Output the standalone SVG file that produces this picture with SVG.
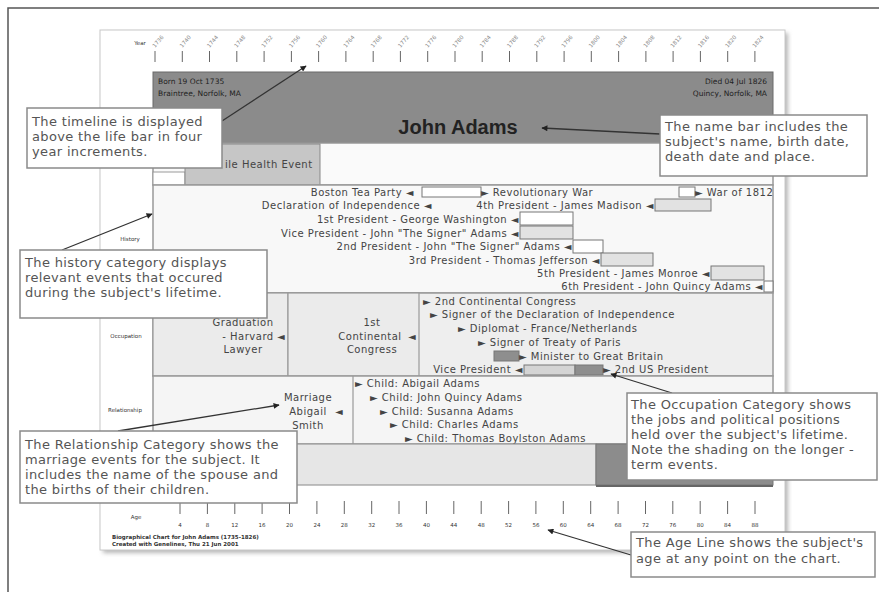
<svg xmlns="http://www.w3.org/2000/svg" width="879" height="592" viewBox="0 0 879 592">
<defs>
<style>
.t{font-family:"DejaVu Sans",Verdana,sans-serif;font-size:10px;letter-spacing:0.5px;fill:#444}
.tiny{font-family:"DejaVu Sans",Verdana,sans-serif;font-size:5.5px;fill:#333}
.yr{font-family:"DejaVu Sans",Verdana,sans-serif;font-size:5.5px;fill:#888}
.info{font-family:"DejaVu Sans",Verdana,sans-serif;font-size:7.5px;fill:#222}
.co{font-family:"DejaVu Sans",Verdana,sans-serif;font-size:13px;letter-spacing:0.35px;fill:#555}
.cobox{fill:#fff;stroke:#8a8a8a;stroke-width:1.5}
.sec{stroke:#999;stroke-width:1.5}
.ev{stroke:#777;stroke-width:1}
.tick{stroke:#666;stroke-width:1;fill:none}
.arr{stroke:#333;stroke-width:1.3;fill:none;marker-end:url(#ah)}
.mid{text-anchor:middle}
.end{text-anchor:end}
</style>
<marker id="ah" viewBox="0 0 10 10" refX="9" refY="5" markerWidth="7" markerHeight="6" orient="auto" markerUnits="userSpaceOnUse">
<path d="M0,0 L10,5 L0,10 Z" fill="#222"/>
</marker>
<filter id="sh" x="-5%" y="-5%" width="110%" height="110%"><feGaussianBlur stdDeviation="2"/></filter>
</defs>
<rect width="879" height="592" fill="#fff"/>
<path d="M8,592 V8 H879" fill="none" stroke="#555" stroke-width="1.5"/>

<g id="sheet">
<rect x="103" y="33" width="685" height="520" fill="#b8b8b8" filter="url(#sh)"/>
<rect x="100" y="30" width="685" height="520" fill="#fff" stroke="#c8c8c8" stroke-width="1"/>
</g>

<g id="timeline">
<text class="tiny mid" x="140" y="45">Year</text>
<path class="tick" d="M155,51v11M182.3,51v11M209.5,51v11M236.8,51v11M264.1,51v11M291.4,51v11M318.6,51v11M345.9,51v11M373.2,51v11M400.4,51v11M427.7,51v11M455,51v11M482.2,51v11M509.5,51v11M536.8,51v11M564.1,51v11M591.3,51v11M618.6,51v11M645.9,51v11M673.1,51v11M700.4,51v11M727.7,51v11M754.9,51v11"/>
<g class="yr">
<text transform="translate(155,48) rotate(-50)">1736</text>
<text transform="translate(182.3,48) rotate(-50)">1740</text>
<text transform="translate(209.5,48) rotate(-50)">1744</text>
<text transform="translate(236.8,48) rotate(-50)">1748</text>
<text transform="translate(264.1,48) rotate(-50)">1752</text>
<text transform="translate(291.4,48) rotate(-50)">1756</text>
<text transform="translate(318.6,48) rotate(-50)">1760</text>
<text transform="translate(345.9,48) rotate(-50)">1764</text>
<text transform="translate(373.2,48) rotate(-50)">1768</text>
<text transform="translate(400.4,48) rotate(-50)">1772</text>
<text transform="translate(427.7,48) rotate(-50)">1776</text>
<text transform="translate(455,48) rotate(-50)">1780</text>
<text transform="translate(482.2,48) rotate(-50)">1784</text>
<text transform="translate(509.5,48) rotate(-50)">1788</text>
<text transform="translate(536.8,48) rotate(-50)">1792</text>
<text transform="translate(564.1,48) rotate(-50)">1796</text>
<text transform="translate(591.3,48) rotate(-50)">1800</text>
<text transform="translate(618.6,48) rotate(-50)">1804</text>
<text transform="translate(645.9,48) rotate(-50)">1808</text>
<text transform="translate(673.1,48) rotate(-50)">1812</text>
<text transform="translate(700.4,48) rotate(-50)">1816</text>
<text transform="translate(727.7,48) rotate(-50)">1820</text>
<text transform="translate(754.9,48) rotate(-50)">1824</text>
</g>
</g>

<g id="namebar">
<rect x="153" y="72" width="620" height="71" fill="#8b8b8b" stroke="#6a6a6a" stroke-width="1"/>
<text class="info" x="158" y="84">Born 19 Oct 1735</text>
<text class="info" x="158" y="96">Braintree, Norfolk, MA</text>
<text class="info end" x="767" y="84">Died 04 Jul 1826</text>
<text class="info end" x="767" y="96">Quincy, Norfolk, MA</text>
<text x="458" y="134" text-anchor="middle" font-family="'Liberation Sans',Arial,sans-serif" font-weight="bold" font-size="20" fill="#222">John Adams</text>
</g>

<g id="health">
<rect class="sec" x="153" y="143" width="620" height="42" fill="#fafafa"/>
<rect x="153" y="172" width="32" height="13" fill="#fff" stroke="#999"/>
<rect x="185" y="144" width="135" height="41" fill="#c6c6c6" stroke="#888"/>
<text class="t" x="225" y="168" font-size="8.5px" letter-spacing="0.3px">ile Health Event</text>
</g>

<g id="history">
<rect class="sec" x="153" y="185" width="620" height="108" fill="#f8f8f8"/>
<text class="tiny mid" x="130" y="241">History</text>
<rect class="ev" x="422" y="187" width="59" height="10" fill="#fff"/>
<rect class="ev" x="679" y="187" width="16" height="10" fill="#fff"/>
<rect class="ev" x="655" y="199" width="56" height="12" fill="#e2e2e2"/>
<rect class="ev" x="520" y="212" width="53" height="13" fill="#fff"/>
<rect class="ev" x="520" y="226" width="53" height="13" fill="#e2e2e2"/>
<rect class="ev" x="573" y="240" width="30" height="13" fill="#fff"/>
<rect class="ev" x="601" y="253" width="52" height="13" fill="#e2e2e2"/>
<rect class="ev" x="711" y="266" width="53" height="14" fill="#e2e2e2"/>
<rect class="ev" x="764" y="281" width="9" height="11" fill="#fff"/>
<text class="t end" x="414" y="195.5">Boston Tea Party ◄</text>
<text class="t" x="481" y="195.5">► Revolutionary War</text>
<text class="t" x="695" y="195.5">► War of 1812</text>
<text class="t end" x="432" y="208.5">Declaration of Independence ◄</text>
<text class="t end" x="654" y="208.5">4th President - James Madison ◄</text>
<text class="t end" x="519" y="222.5">1st President - George Washington ◄</text>
<text class="t end" x="519" y="236.5">Vice President - John "The Signer" Adams ◄</text>
<text class="t end" x="572" y="249.5">2nd President - John "The Signer" Adams ◄</text>
<text class="t end" x="600" y="263.5">3rd President - Thomas Jefferson ◄</text>
<text class="t end" x="710" y="276.5">5th President - James Monroe ◄</text>
<text class="t end" x="763" y="290">6th President - John Quincy Adams ◄</text>
</g>

<g id="occupation">
<rect class="sec" x="153" y="293" width="620" height="83" fill="#eeeeee"/>
<text class="tiny mid" x="126" y="338">Occupation</text>
<rect x="153" y="293" width="135" height="83" fill="#ebebeb" stroke="#999" stroke-width="1.2"/>
<rect x="288" y="293" width="131" height="83" fill="#ebebeb" stroke="#999" stroke-width="1.2"/>
<text class="t mid" x="243" y="325.5">Graduation</text>
<text class="t mid" x="248" y="339.5">- Harvard</text>
<text class="t" x="277" y="339.5">◄</text>
<text class="t mid" x="243" y="353">Lawyer</text>
<text class="t mid" x="372" y="325.5">1st</text>
<text class="t mid" x="370" y="339.5">Continental</text>
<text class="t" x="408" y="339.5">◄</text>
<text class="t mid" x="372" y="353">Congress</text>
<text class="t" x="423" y="304.5">► 2nd Continental Congress</text>
<text class="t" x="430" y="318">► Signer of the Declaration of Independence</text>
<text class="t" x="458" y="332">► Diplomat - France/Netherlands</text>
<text class="t" x="478" y="345.5">► Signer of Treaty of Paris</text>
<rect class="ev" x="494" y="351" width="25" height="10" fill="#8e8e8e"/>
<text class="t" x="519" y="359.5">► Minister to Great Britain</text>
<text class="t end" x="523" y="373">Vice President ◄</text>
<rect class="ev" x="524" y="365" width="51" height="10" fill="#d4d4d4"/>
<rect class="ev" x="575" y="365" width="28" height="10" fill="#8e8e8e"/>
<text class="t" x="603" y="373">► 2nd US President</text>
</g>

<g id="relationship">
<rect class="sec" x="153" y="376" width="620" height="68" fill="#f5f5f5"/>
<text class="tiny mid" x="125" y="412">Relationship</text>
<line x1="353" y1="376" x2="353" y2="444" stroke="#999" stroke-width="1.2"/>
<text class="t mid" x="308" y="400.5">Marriage</text>
<text class="t mid" x="308" y="414.5">Abigail</text>
<text class="t mid" x="308" y="428.5">Smith</text>
<text class="t" x="335" y="414.5">◄</text>
<text class="t" x="355" y="386.5">► Child: Abigail Adams</text>
<text class="t" x="370" y="400.5">► Child: John Quincy Adams</text>
<text class="t" x="380" y="414.5">► Child: Susanna Adams</text>
<text class="t" x="390" y="427.5">► Child: Charles Adams</text>
<text class="t" x="405" y="441.5">► Child: Thomas Boylston Adams</text>
</g>

<g id="lifeband">
<rect x="153" y="444" width="443" height="41" fill="#e6e6e6" stroke="#999" stroke-width="1.2"/>
<rect x="596" y="444" width="177" height="41" fill="#8c8c8c" stroke="#777" stroke-width="1"/>
<line x1="596" y1="486" x2="773" y2="486" stroke="#666" stroke-width="2"/>
</g>

<g id="ageline">
<text class="tiny mid" x="136" y="519">Age</text>
<path class="tick" d="M180,501v13M207.4,501v13M234.8,501v13M262.1,501v13M289.5,501v13M316.9,501v13M344.3,501v13M371.7,501v13M399,501v13M426.4,501v13M453.8,501v13M481.2,501v13M508.6,501v13M535.9,501v13M563.3,501v13M590.7,501v13M618.1,501v13M645.5,501v13M672.8,501v13M700.2,501v13M727.6,501v13M755,501v13"/>
<g class="tiny mid">
<text x="180" y="527">4</text><text x="207.4" y="527">8</text><text x="234.8" y="527">12</text><text x="262.1" y="527">16</text><text x="289.5" y="527">20</text><text x="316.9" y="527">24</text><text x="344.3" y="527">28</text><text x="371.7" y="527">32</text><text x="399" y="527">36</text><text x="426.4" y="527">40</text><text x="453.8" y="527">44</text><text x="481.2" y="527">48</text><text x="508.6" y="527">52</text><text x="535.9" y="527">56</text><text x="563.3" y="527">60</text><text x="590.7" y="527">64</text><text x="618.1" y="527">68</text><text x="645.5" y="527">72</text><text x="672.8" y="527">76</text><text x="700.2" y="527">80</text><text x="727.6" y="527">84</text><text x="755" y="527">88</text>
</g>
<text class="tiny" x="112" y="539" font-weight="bold">Biographical Chart for John Adams (1735-1826)</text>
<text class="tiny" x="112" y="546" font-weight="bold">Created with Genelines, Thu 21 Jun 2001</text>
</g>

<g id="connectors">
<line class="arr" x1="222" y1="121" x2="306" y2="66"/>
<line class="arr" x1="660" y1="134" x2="542" y2="128"/>
<line class="arr" x1="62" y1="250" x2="152" y2="214"/>
<line class="arr" x1="672" y1="393" x2="611" y2="374"/>
<line class="arr" x1="118" y1="431" x2="279" y2="405"/>
<line class="arr" x1="631" y1="555" x2="548" y2="530"/>
</g>

<g id="callout-timeline">
<rect class="cobox" x="27" y="108" width="195" height="60"/>
<text class="co" x="32" y="126">The timeline is displayed</text>
<text class="co" x="32" y="141">above the life bar in four</text>
<text class="co" x="32" y="156">year increments.</text>
</g>
<g id="callout-namebar">
<rect class="cobox" x="660" y="115" width="207" height="61"/>
<text class="co" x="665" y="131">The name bar includes the</text>
<text class="co" x="665" y="146">subject's name, birth date,</text>
<text class="co" x="665" y="161">death date and place.</text>
</g>
<g id="callout-history">
<rect class="cobox" x="20" y="250" width="247" height="68"/>
<text class="co" x="25" y="267">The history category displays</text>
<text class="co" x="25" y="282">relevant events that occured</text>
<text class="co" x="25" y="297">during the subject's lifetime.</text>
</g>
<g id="callout-occupation">
<rect class="cobox" x="627" y="393" width="250" height="87"/>
<text class="co" x="631" y="409">The Occupation Category shows</text>
<text class="co" x="631" y="424">the jobs and political positions</text>
<text class="co" x="631" y="439">held over the subject's lifetime.</text>
<text class="co" x="631" y="454">Note the shading on the longer -</text>
<text class="co" x="631" y="469">term events.</text>
</g>
<g id="callout-relationship">
<rect class="cobox" x="20" y="431" width="277" height="72"/>
<text class="co" x="25" y="449">The Relationship Category shows the</text>
<text class="co" x="25" y="464">marriage events for the subject.  It</text>
<text class="co" x="25" y="479">includes the name of the spouse and</text>
<text class="co" x="25" y="494">the births of their children.</text>
</g>
<g id="callout-age">
<rect class="cobox" x="631" y="532" width="244" height="45"/>
<text class="co" x="636" y="547">The Age Line shows the subject's</text>
<text class="co" x="636" y="563">age at any point on the chart.</text>
</g>
</svg>
